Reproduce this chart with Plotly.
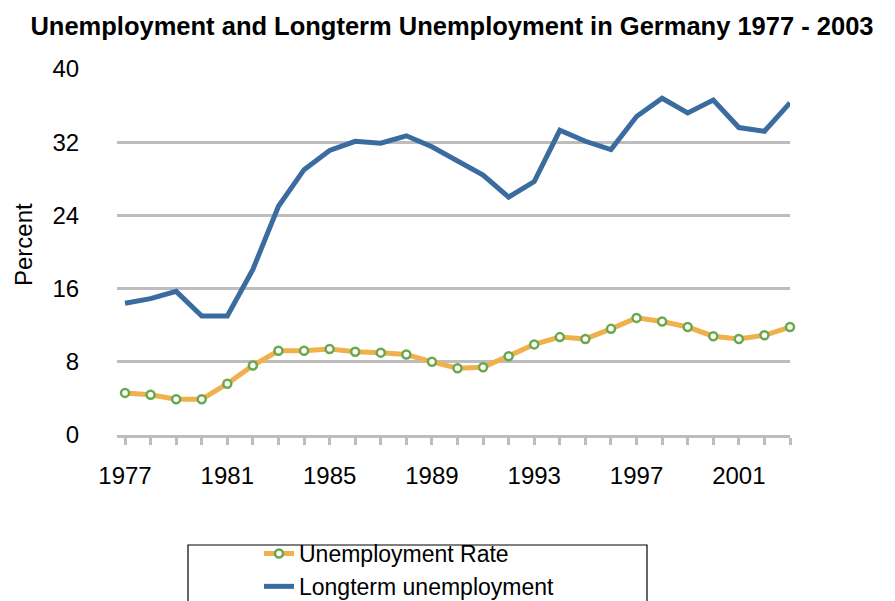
import plotly.graph_objects as go

years = list(range(1977, 2004))
unemployment_rate = [4.6, 4.4, 3.9, 3.9, 5.6, 7.6, 9.2, 9.2, 9.4, 9.1, 9.0, 8.8, 8.0, 7.3, 7.4,
                     8.6, 9.9, 10.7, 10.5, 11.6, 12.8, 12.4, 11.8, 10.8, 10.5, 10.9, 11.8]
longterm_unemployment = [14.4, 14.9, 15.7, 13.0, 13.0, 18.1, 25.0, 29.0, 31.1, 32.1, 31.9, 32.7, 31.5,
                         29.9, 28.4, 26.0, 27.7, 33.3, 32.1, 31.2, 34.8, 36.8, 35.2, 36.6, 33.6, 33.2, 36.3]
x_tick_labels = ["1977", "", "", "", "1981", "", "", "", "1985", "", "", "", "1989", "", "", "",
                 "1993", "", "", "", "1997", "", "", "", "2001", "", ""]
y_ticks = [0, 8, 16, 24, 32, 40]
y_title = "Percent"

FONT = "Liberation Sans, Arial, Helvetica, sans-serif"
GRID = "#bdbdbd"
# the page body adds an 8px offset, so the figure is 8px smaller than the window
OFF = 8
W, H = 895 - OFF, 601 - OFF
PLOT_W, PLOT_H = 673, 366

fig = go.Figure()
fig.add_trace(go.Scatter(
    x=years, y=unemployment_rate, name="Unemployment Rate",
    mode="lines+markers",
    line=dict(color="#f0b04b", width=5),
    marker=dict(symbol="circle", size=8, color="white",
                line=dict(color="#6aa84f", width=2.5)),
    cliponaxis=False,
))
fig.add_trace(go.Scatter(
    x=years, y=longterm_unemployment, name="Longterm unemployment",
    mode="lines",
    line=dict(color="#3b6ca0", width=5),
    cliponaxis=False,
))

# legend frame
fig.add_shape(type="rect", xref="paper", yref="paper",
              x0=(188 - 117) / PLOT_W, x1=(647 - 117) / PLOT_W,
              y0=(435 - 545) / PLOT_H, y1=-0.6,
              line=dict(color="black", width=1.2), fillcolor="rgba(0,0,0,0)", layer="above")

# y axis title
fig.add_annotation(text=y_title, textangle=-90, showarrow=False,
                   xref="paper", yref="paper",
                   x=(23 - 117) / PLOT_W, xanchor="center",
                   y=(435 - 245) / PLOT_H, yanchor="middle",
                   font=dict(family=FONT, size=24, color="black"))

fig.update_layout(
    width=W, height=H,
    margin=dict(l=117 - OFF, r=W - (790 - OFF), t=69 - OFF, b=H - (435 - OFF), autoexpand=False),
    paper_bgcolor="white", plot_bgcolor="white",
    font=dict(family=FONT, size=24, color="black"),
    title=dict(text="<b>Unemployment and Longterm Unemployment in Germany 1977 - 2003</b>",
               font=dict(family=FONT, size=25.5, color="black"),
               x=(452 - OFF) / W, xanchor="center", xref="container",
               y=1 - (26 - OFF) / H, yanchor="middle", yref="container"),
    showlegend=True,
    legend=dict(x=(259 - OFF) / W, xanchor="left", xref="container",
                y=1 - (532 - OFF) / H, yanchor="top", yref="container",
                font=dict(family=FONT, size=23, color="black"),
                bgcolor="rgba(0,0,0,0)", borderwidth=0,
                tracegroupgap=0, itemwidth=30),
    xaxis=dict(
        range=[1976.687, 2003.0],
        tickmode="array", tickvals=years, ticktext=x_tick_labels,
        ticks="outside", ticklen=7, tickwidth=2.5, tickcolor=GRID,
        showline=True, linecolor=GRID, linewidth=3,
        showgrid=False, zeroline=False,
        ticklabelstandoff=10,
        tickfont=dict(family=FONT, size=24, color="black"),
    ),
    yaxis=dict(
        range=[0, 40],
        tickmode="array", tickvals=y_ticks,
        showgrid=True, gridcolor=GRID, gridwidth=3,
        zeroline=False, showline=False,
        ticks="outside", ticklen=32, tickcolor="rgba(0,0,0,0)",
        tickfont=dict(family=FONT, size=24, color="black"),
    ),
)

fig.write_html("out.html")
